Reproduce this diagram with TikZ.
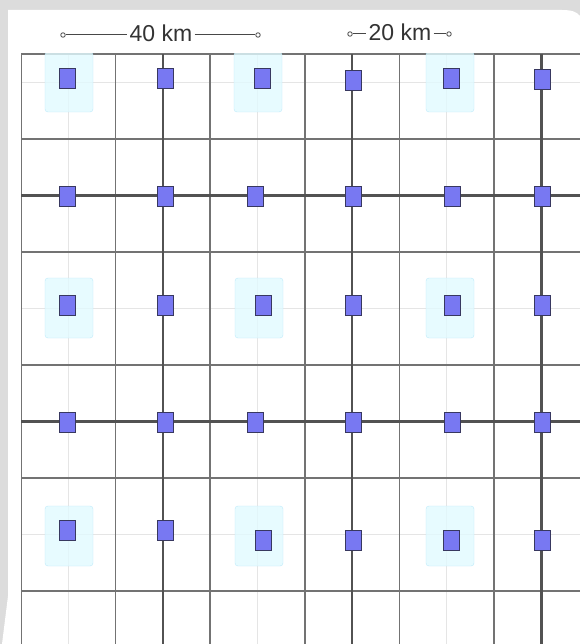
\documentclass[tikz,border=0pt]{standalone}
\usepackage{fontspec}
\setmainfont{Liberation Sans}
\usetikzlibrary{positioning}
\definecolor{bgGray}{HTML}{DCDCDC}
\definecolor{siteFill}{HTML}{7878F2}
\definecolor{siteEdge}{HTML}{383860}
\definecolor{zoneFill}{HTML}{E2FAFF}
\definecolor{zoneEdge}{HTML}{BEEBFA}

\begin{document}
\begin{tikzpicture}[
  x=1pt, y=-1pt,
  font=\fontsize{23}{26}\selectfont,
  site/.style={draw=siteEdge, fill=siteFill, line width=1pt, minimum width=16pt, minimum height=20pt, inner sep=0pt},
  zone/.style={draw=zoneEdge, fill=zoneFill, fill opacity=0.8, rounded corners=3pt, minimum width=48pt, minimum height=60pt, inner sep=0pt},
  fine/.style={line width=0.8pt, black!10},
  mid/.style={line width=1.7pt, black!55},
  major/.style={line width=2.6pt, black!68},
  bar/.style={line width=1pt, black!72},
  tick/.style={draw=black!72, fill=white, circle, minimum size=4.5pt, inner sep=0pt, line width=0.8pt},
  kmlbl/.style={text=black!80, inner sep=2pt}]
% ---------------- page ----------------
\useasboundingbox (0,0) rectangle (580,644);
\fill[bgGray] (0,0) rectangle (580,644);
\fill[white] (8,10) -- (562,10) .. controls (572,10) and (577,12) .. (580,16) -- (580,644) -- (2,644) -- (8,596) -- cycle;
% ---------------- grid: fine / medium / major lines ----------------
\begin{scope}
\clip (21,54) rectangle (580,644);
\foreach \x in {68.3,257.5,446.7} { \draw[fine] (\x,54) -- (\x,644); }
\foreach \y in {82.5,308.5,534.5} { \draw[fine] (21,\y) -- (580,\y); }
\draw[mid] (21,54) -- (580,54);
% search zones
\foreach \x/\y [count=\n] in {69/82,258/82,450/82,69/308,259/308,450/308,69/536,259/536,450/536}
  { \node[zone] (z\n) at (\x,\y) {}; }
\foreach \x in {21,115.6,210.2,304.8,399.4,494,588.6} { \draw[mid] (\x,54) -- (\x,644); }
\foreach \y in {139,252,365,478,591} { \draw[mid] (21,\y) -- (580,\y); }
\foreach \x in {162.9,352.1,541.3} { \draw[major] (\x,54) -- (\x,644); }
\foreach \y in {195.5,421.5} { \draw[major] (21,\y) -- (580,\y); }
\end{scope}
% ---------------- sites ----------------
\foreach \x/\y [count=\n] in {67/79,165/79,262/79,353/81,451/79,542/80,
  67/197,165/197,255/197,353/197,452/197,542/197,
  67/305,165/305,263/305,353/305,452/305,542/305,
  67/422,165/422,255/422,353/422,452/422,542/422,
  67/530,165/530,263/540,353/540,451/540,542/540}
  { \node[site] (s\n) at (\x,\y) {}; }
% ---------------- scale bars ----------------
\node[kmlbl] (km40) at (161,33) {40 km};
\node[tick] (l40) at (63,35) {};
\node[tick] (r40) at (258,35) {};
\draw[bar] (l40) -- (l40 -| km40.west);
\draw[bar] (km40.east |- r40) -- (r40);
\node[kmlbl] (km20) at (400,32) {20 km};
\node[tick] (l20) at (350,34) {};
\node[tick] (r20) at (449,34) {};
\draw[bar] (l20) -- (l20 -| km20.west);
\draw[bar] (km20.east |- r20) -- (r20);
\end{tikzpicture}
\end{document}
